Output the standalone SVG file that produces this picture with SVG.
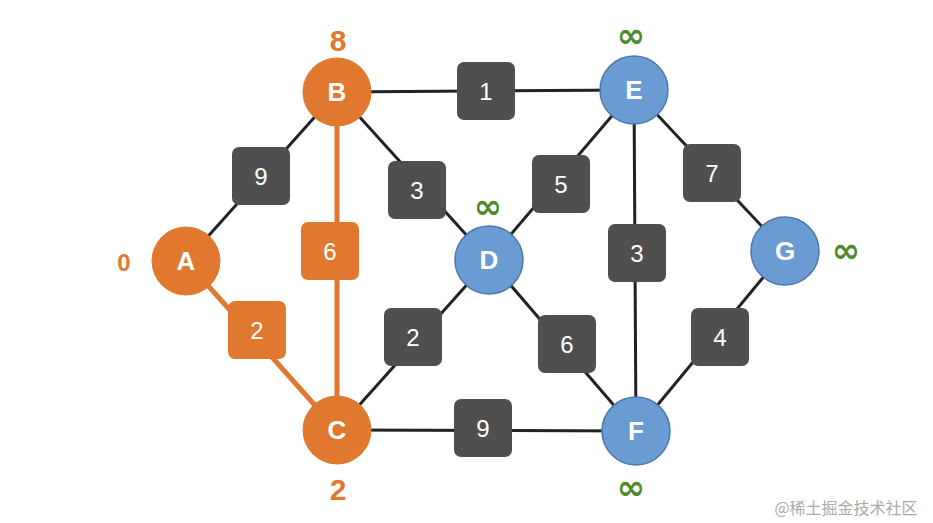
<svg xmlns="http://www.w3.org/2000/svg" width="933" height="523" viewBox="0 0 933 523">
<style>
.e{stroke:#222;stroke-width:3}
.eo{stroke:#E0792F;stroke-width:5}
.w{fill:#4F4F4F}
.wo{fill:#E0792F}
.wt{fill:#fff;font:24px "Liberation Sans",sans-serif;text-anchor:middle;dominant-baseline:central}
.no{fill:#E0792F;stroke:#E0792F}
.nb{fill:#6A9BD3;stroke:#4A78AE;stroke-width:1.5}
.nt{fill:#fff;font:bold 26px "Liberation Sans",sans-serif;text-anchor:middle;dominant-baseline:central}
.lo{fill:#E0792F;font:bold 30px "Liberation Sans",sans-serif;text-anchor:middle;dominant-baseline:central}
.lg{fill:#4E8A2A;font:bold 34px "DejaVu Sans",sans-serif;text-anchor:middle;dominant-baseline:central}
</style>
<rect width="933" height="523" fill="#fff"/>
<g id="connectors">
<line class="e" x1="186" y1="261" x2="337" y2="92"/>
<line class="e" x1="337" y1="92" x2="634" y2="90"/>
<line class="e" x1="337" y1="92" x2="489" y2="260"/>
<line class="e" x1="489" y1="260" x2="634" y2="90"/>
<line class="e" x1="634" y1="90" x2="785" y2="251"/>
<line class="e" x1="634" y1="90" x2="636" y2="431"/>
<line class="e" x1="337" y1="430" x2="489" y2="260"/>
<line class="e" x1="489" y1="260" x2="636" y2="431"/>
<line class="e" x1="785" y1="251" x2="636" y2="431"/>
<line class="e" x1="337" y1="430" x2="636" y2="431"/>
<line class="eo" x1="186" y1="261" x2="337" y2="430"/>
<line class="eo" x1="337" y1="92" x2="337" y2="430"/>
</g>
<g id="weights">
<rect class="w" x="232" y="147" width="58" height="58" rx="7"/><text class="wt" x="261" y="176">9</text>
<rect class="w" x="457" y="62" width="58" height="58" rx="7"/><text class="wt" x="486" y="91">1</text>
<rect class="w" x="388" y="161" width="58" height="58" rx="7"/><text class="wt" x="417" y="190">3</text>
<rect class="wo" x="301" y="222" width="58" height="58" rx="7"/><text class="wt" x="330" y="251">6</text>
<rect class="wo" x="228" y="301" width="58" height="58" rx="7"/><text class="wt" x="257" y="330">2</text>
<rect class="w" x="532" y="155" width="58" height="58" rx="7"/><text class="wt" x="561" y="184">5</text>
<rect class="w" x="683" y="144" width="58" height="58" rx="7"/><text class="wt" x="712" y="173">7</text>
<rect class="w" x="608" y="224" width="58" height="58" rx="7"/><text class="wt" x="637" y="253">3</text>
<rect class="w" x="384" y="308" width="58" height="58" rx="7"/><text class="wt" x="413" y="337">2</text>
<rect class="w" x="538" y="315" width="58" height="58" rx="7"/><text class="wt" x="567" y="344">6</text>
<rect class="w" x="691" y="308" width="58" height="58" rx="7"/><text class="wt" x="720" y="337">4</text>
<rect class="w" x="454" y="399" width="58" height="58" rx="7"/><text class="wt" x="483" y="428">9</text>
</g>
<g id="A"><circle class="no" cx="186" cy="261" r="34"/><text class="nt" x="186" y="261">A</text></g>
<g id="B"><circle class="no" cx="337" cy="92" r="34"/><text class="nt" x="337" y="92">B</text></g>
<g id="C"><circle class="no" cx="337" cy="430" r="34"/><text class="nt" x="337" y="430">C</text></g>
<g id="D"><circle class="nb" cx="489" cy="260" r="34"/><text class="nt" x="489" y="260">D</text></g>
<g id="E"><circle class="nb" cx="634" cy="90" r="34"/><text class="nt" x="634" y="90">E</text></g>
<g id="F"><circle class="nb" cx="636" cy="431" r="34"/><text class="nt" x="636" y="431">F</text></g>
<g id="G"><circle class="nb" cx="785" cy="251" r="34"/><text class="nt" x="785" y="251">G</text></g>
<g id="labels">
<text class="lo" x="338" y="40">8</text>
<text class="lo" x="124" y="262" style="font-size:24px">0</text>
<text class="lo" x="338" y="489">2</text>
<text class="lg" x="631" y="35">∞</text>
<text class="lg" x="488" y="206">∞</text>
<text class="lg" x="846" y="250">∞</text>
<text class="lg" x="631" y="487">∞</text>
<text x="846" y="507" style="fill:#aaa;font:16px 'Noto Sans CJK SC',sans-serif;text-anchor:middle;dominant-baseline:central">@稀土掘金技术社区</text>
</g>
</svg>
